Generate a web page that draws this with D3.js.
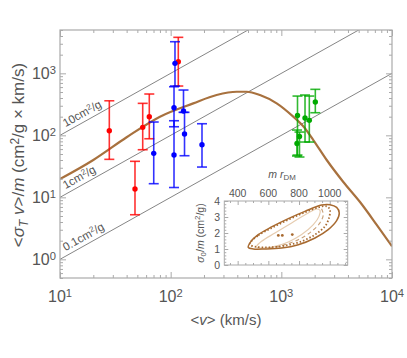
<!DOCTYPE html>
<html>
<head>
<meta charset="utf-8">
<script src="https://cdn.jsdelivr.net/npm/d3@7"></script>
<style>
  body { margin: 0; background: #fff; }
  svg { font-family: "Liberation Sans", Arial, sans-serif; }
</style>
</head>
<body>
<div id="chart"></div>
<script>
// model curve <sigma v>/m vs <v>
const curveV  = [10, 20, 40, 80, 160, 260, 395, 486, 641, 908, 1282, 1578, 1945, 2570, 3631, 5140, 7278, 10000];
const curveSV = [19.7, 40, 93, 200, 328, 447, 505, 505, 447, 328, 200, 140, 84, 40, 17.7, 8.4, 3.6, 1.62];

// dwarfs (red)
const redV  = [27.9, 47.6, 55.9, 64.1, 117.2];
const redY  = [118.6, 13.6, 134.6, 199.5, 1538];
const redLo = [41.0, 5.24, 58.6, 88.1, 624];
const redHi = [361, 38.1, 328, 464, 3808];

// LSB galaxies (blue)
const blueV  = [70.3, 109.4, 107.2, 107.2, 130.6, 133.4, 191.9];
const blueY  = [51.2, 1449, 278.7, 48.1, 246.6, 105, 70.5];
const blueLo = [16.6, 624, 137.6, 14.4, 235, 46.9, 30.8];
const blueHi = [164, 3235, 608, 172, 538, 235, 153.8];

// clusters (green)
const greenV  = [1400, 1459, 1385, 1637, 1790, 2028];
const greenY  = [208.6, 95.7, 73.8, 190, 174.6, 344];
const greenLo = [48.1, 44.7, 46.4, 78, 78, 231.6];
const greenHi = [430, 113, 121.7, 447, 430, 552];

// constant cross sections (cm^2/g)
const crossSections = [10, 1, 0.1];
const crossLabels = ["10cm", "1cm", "0.1cm"];

// inset contours [m r_DM, sigma0/m]
const contourSolid = [[469,1.10],[502,1.00],[578,1.00],[686,1.06],[795,1.27],[904,1.69],[990,2.21],[1045,2.77],[1062,3.25],[1045,3.60],[1001,3.77],[947,3.75],[838,3.35],[730,2.90],[621,2.38],[534,1.90],[487,1.48]];
const contourDotted = [[480,1.38],[534,1.85],[621,2.31],[730,2.83],[838,3.29],[925,3.60],[980,3.67],[1001,3.46],[995,2.94],[969,2.42],[904,1.90],[817,1.48],[708,1.21],[600,1.10],[513,1.15],[480,1.27]];
const contourLight = [[523,1.17],[556,1.48],[643,2.0],[752,2.63],[860,3.25],[914,3.50],[936,3.42],[930,3.04],[893,2.52],[817,1.90],[730,1.44],[643,1.17],[567,1.06],[523,1.10]];
const contourDashed = [[947,3.52],[958,3.15],[936,2.63],[882,2.10],[795,1.58],[686,1.21],[600,1.06]];
const bestFitX = [665, 691, 756];
const bestFitY = [1.85, 1.85, 1.90];

const insetXTicks = [400, 600, 800, 1000];
const insetYTicks = [0, 1, 2, 3, 4];

const W = 407, H = 358;
const svg = d3.select("#chart").append("svg").attr("width", W).attr("height", H);

const x = d3.scaleLog().domain([10, 1e4]).range([60, 392]);
const y = d3.scaleLog().domain([0.5, 5000]).range([278, 30]);

const axisCol = "#aaa", textCol = "#555";

svg.append("clipPath").attr("id", "clip")
  .append("rect").attr("x", 60).attr("y", 30).attr("width", 332).attr("height", 248);

// minor tick values
const minorX = [], minorY = [];
[10, 100, 1000].forEach(d => { for (let k = 2; k <= 9; k++) minorX.push(k * d); });
[0.1, 1, 10, 100, 1000].forEach(d => { for (let k = 2; k <= 9; k++) { const v = k * d; if (v >= 0.5 && v <= 5000) minorY.push(v); } });

function supLabel(sel, exp) {
  sel.text(null);
  sel.append("tspan").text("10");
  sel.append("tspan").attr("dy", "-0.45em").attr("font-size", "0.7em").text(exp);
}

function drawAxes() {
  const g = svg.append("g");
  const mk = (axis, tr, size, vals) => {
    const a = g.append("g").attr("transform", tr)
      .call(axis.tickValues(vals).tickSize(size).tickSizeOuter(0).tickFormat(""));
    a.select(".domain").remove();
    a.selectAll("line").attr("stroke", axisCol);
    return a;
  };
  mk(d3.axisBottom(x), "translate(0,278)", -6, [10, 100, 1000, 10000]);
  mk(d3.axisBottom(x), "translate(0,278)", -3, minorX);
  mk(d3.axisTop(x), "translate(0,30)", -6, [10, 100, 1000, 10000]);
  mk(d3.axisTop(x), "translate(0,30)", -3, minorX);
  mk(d3.axisLeft(y), "translate(60,0)", -6, [1, 10, 100, 1000]);
  mk(d3.axisLeft(y), "translate(60,0)", -3, minorY);
  mk(d3.axisRight(y), "translate(392,0)", -6, [1, 10, 100, 1000]);
  mk(d3.axisRight(y), "translate(392,0)", -3, minorY);

  g.append("rect").attr("x", 60).attr("y", 30).attr("width", 332).attr("height", 248)
    .attr("fill", "none").attr("stroke", axisCol).attr("stroke-width", 1.2);

  // tick labels
  [1, 2, 3, 4].forEach(e => {
    g.append("text").attr("x", x(Math.pow(10, e))).attr("y", 302)
      .attr("text-anchor", "middle").attr("font-size", 16).attr("fill", textCol)
      .call(supLabel, e);
  });
  [0, 1, 2, 3].forEach(e => {
    g.append("text").attr("x", 56).attr("y", y(Math.pow(10, e)) + 6)
      .attr("text-anchor", "end").attr("font-size", 16).attr("fill", textCol)
      .call(supLabel, e);
  });

  // axis titles
  const xt = g.append("text").attr("x", 226).attr("y", 325).attr("text-anchor", "middle")
    .attr("font-size", 15).attr("fill", textCol);
  xt.append("tspan").text("<");
  xt.append("tspan").attr("font-style", "italic").text("v");
  xt.append("tspan").text("> (km/s)");

  const yt = g.append("text").attr("transform", "translate(24,155) rotate(-90)")
    .attr("text-anchor", "middle").attr("font-size", 17).attr("fill", textCol);
  yt.append("tspan").text("<");
  yt.append("tspan").attr("font-style", "italic").text("σ");
  yt.append("tspan").attr("font-style", "italic").attr("font-size", "0.7em").attr("dy", "0.3em").text("T");
  yt.append("tspan").attr("dy", "-0.21em").attr("font-style", "italic").text(" v");
  yt.append("tspan").text(">/");
  yt.append("tspan").attr("font-style", "italic").text("m");
  yt.append("tspan").text(" (cm");
  yt.append("tspan").attr("font-size", "0.7em").attr("dy", "-0.45em").text("2");
  yt.append("tspan").attr("dy", "0.315em").text("/g × km/s)");
}

// diagonal constant-cross-section lines
const plot = svg.append("g").attr("clip-path", "url(#clip)");
const angle = Math.atan2(y(100) - y(10), x(100) - x(10)) * 180 / Math.PI;
crossSections.forEach((s, i) => {
  plot.append("line")
    .attr("x1", x(10)).attr("y1", y(s * 10))
    .attr("x2", x(1e4)).attr("y2", y(s * 1e4))
    .attr("stroke", "#666").attr("stroke-width", 0.8);
  const v0 = 11.2;
  const t = svg.append("text")
    .attr("transform", `translate(${x(v0)},${y(s * v0) - 5}) rotate(${angle})`)
    .attr("font-size", 11.5).attr("fill", textCol);
  t.append("tspan").text(crossLabels[i]);
  t.append("tspan").attr("font-size", "0.7em").attr("dy", "-0.45em").text("2");
  t.append("tspan").attr("dy", "0.315em").text("/g");
});

// model curve
plot.append("path")
  .datum(curveV.map((v, i) => [v, curveSV[i]]))
  .attr("fill", "none").attr("stroke", "#a8713e").attr("stroke-width", 2.2)
  .attr("d", d3.line().x(d => x(d[0])).y(d => y(d[1])).curve(d3.curveMonotoneX));

// data with error bars
function drawSet(vs, ys, lo, hi, col) {
  const g = plot.append("g");
  vs.forEach((v, i) => {
    const px = x(v);
    g.append("line").attr("x1", px).attr("x2", px).attr("y1", y(lo[i])).attr("y2", y(hi[i]))
      .attr("stroke", col).attr("stroke-width", 1.6).attr("opacity", 0.8);
    [lo[i], hi[i]].forEach(e => {
      g.append("line").attr("x1", px - 5).attr("x2", px + 5).attr("y1", y(e)).attr("y2", y(e))
        .attr("stroke", col).attr("stroke-width", 1.6).attr("opacity", 0.8);
    });
    g.append("circle").attr("cx", px).attr("cy", y(ys[i])).attr("r", 2.7).attr("fill", col);
  });
}
drawSet(redV, redY, redLo, redHi, "#f00");
drawSet(blueV, blueY, blueLo, blueHi, "#00f");
drawSet(greenV, greenY, greenLo, greenHi, "#0a0");

drawAxes();

// inset
const ix = d3.scaleLinear().domain([313, 1117]).range([224.3, 347.7]);
const iy = d3.scaleLinear().domain([0, 4]).range([265, 201]);
const inset = svg.append("g");
inset.append("rect").attr("x", 224.3).attr("y", 201).attr("width", 123.4).attr("height", 64)
  .attr("fill", "#fff");

const ig = inset.append("g");
const imk = (axis, tr, size, vals) => {
  const a = ig.append("g").attr("transform", tr)
    .call(axis.tickValues(vals).tickSize(size).tickSizeOuter(0).tickFormat(""));
  a.select(".domain").remove();
  a.selectAll("line").attr("stroke", axisCol);
};
const iMinorX = d3.range(350, 1101, 50).filter(v => v % 200 !== 0);
const iMinorY = d3.range(0.2, 4, 0.2).filter(v => Math.abs(v - Math.round(v)) > 0.01);
imk(d3.axisTop(ix), "translate(0,201)", -4, insetXTicks);
imk(d3.axisTop(ix), "translate(0,201)", -2, iMinorX);
imk(d3.axisBottom(ix), "translate(0,265)", -4, insetXTicks);
imk(d3.axisBottom(ix), "translate(0,265)", -2, iMinorX);
imk(d3.axisLeft(iy), "translate(224.3,0)", -4, insetYTicks);
imk(d3.axisLeft(iy), "translate(224.3,0)", -2, iMinorY);
imk(d3.axisRight(iy), "translate(347.7,0)", -4, insetYTicks);
imk(d3.axisRight(iy), "translate(347.7,0)", -2, iMinorY);
ig.append("rect").attr("x", 224.3).attr("y", 201).attr("width", 123.4).attr("height", 64)
  .attr("fill", "none").attr("stroke", axisCol).attr("stroke-width", 1);

insetXTicks.forEach(t => {
  ig.append("text").attr("x", ix(t)).attr("y", 197).attr("text-anchor", "middle")
    .attr("font-size", 10.5).attr("fill", textCol).text(t);
});
insetYTicks.forEach(t => {
  ig.append("text").attr("x", 220).attr("y", iy(t) + 4).attr("text-anchor", "end")
    .attr("font-size", 10.5).attr("fill", textCol).text(t);
});
const itx = ig.append("text").attr("x", 282).attr("y", 178).attr("text-anchor", "middle")
  .attr("font-size", 10.5).attr("fill", textCol);
itx.append("tspan").attr("font-style", "italic").text("m r");
itx.append("tspan").attr("font-size", "0.75em").attr("dy", "0.3em").text("DM");
const ity = ig.append("text").attr("transform", "translate(204,233) rotate(-90)")
  .attr("text-anchor", "middle").attr("font-size", 10.5).attr("fill", textCol);
ity.append("tspan").attr("font-style", "italic").text("σ");
ity.append("tspan").attr("font-size", "0.75em").attr("dy", "0.3em").text("0");
ity.append("tspan").attr("dy", "-0.225em").text("/");
ity.append("tspan").attr("font-style", "italic").text("m");
ity.append("tspan").text(" (cm");
ity.append("tspan").attr("font-size", "0.75em").attr("dy", "-0.45em").text("2");
ity.append("tspan").attr("dy", "0.3375em").text("/g)");

const iline = d3.line().x(d => ix(d[0])).y(d => iy(d[1]));
inset.append("path").datum(contourLight).attr("fill", "none").attr("stroke", "#e6ccb0")
  .attr("stroke-width", 1.2).attr("d", iline.curve(d3.curveCatmullRomClosed)(contourLight));
inset.append("path").attr("fill", "none").attr("stroke", "#c9a078").attr("stroke-width", 1.1)
  .attr("stroke-dasharray", "4,3").attr("d", iline.curve(d3.curveCatmullRom)(contourDashed));
inset.append("path").attr("fill", "none").attr("stroke", "#a86a30").attr("stroke-width", 1.8)
  .attr("stroke-dasharray", "1.5,2").attr("d", iline.curve(d3.curveCatmullRomClosed)(contourDotted));
inset.append("path").attr("fill", "none").attr("stroke", "#a86a30").attr("stroke-width", 1.5)
  .attr("d", iline.curve(d3.curveCatmullRomClosed)(contourSolid));
bestFitX.forEach((v, i) => {
  inset.append("circle").attr("cx", ix(v)).attr("cy", iy(bestFitY[i])).attr("r", 1.4).attr("fill", "#a86a30");
});
</script>
</body>
</html>
